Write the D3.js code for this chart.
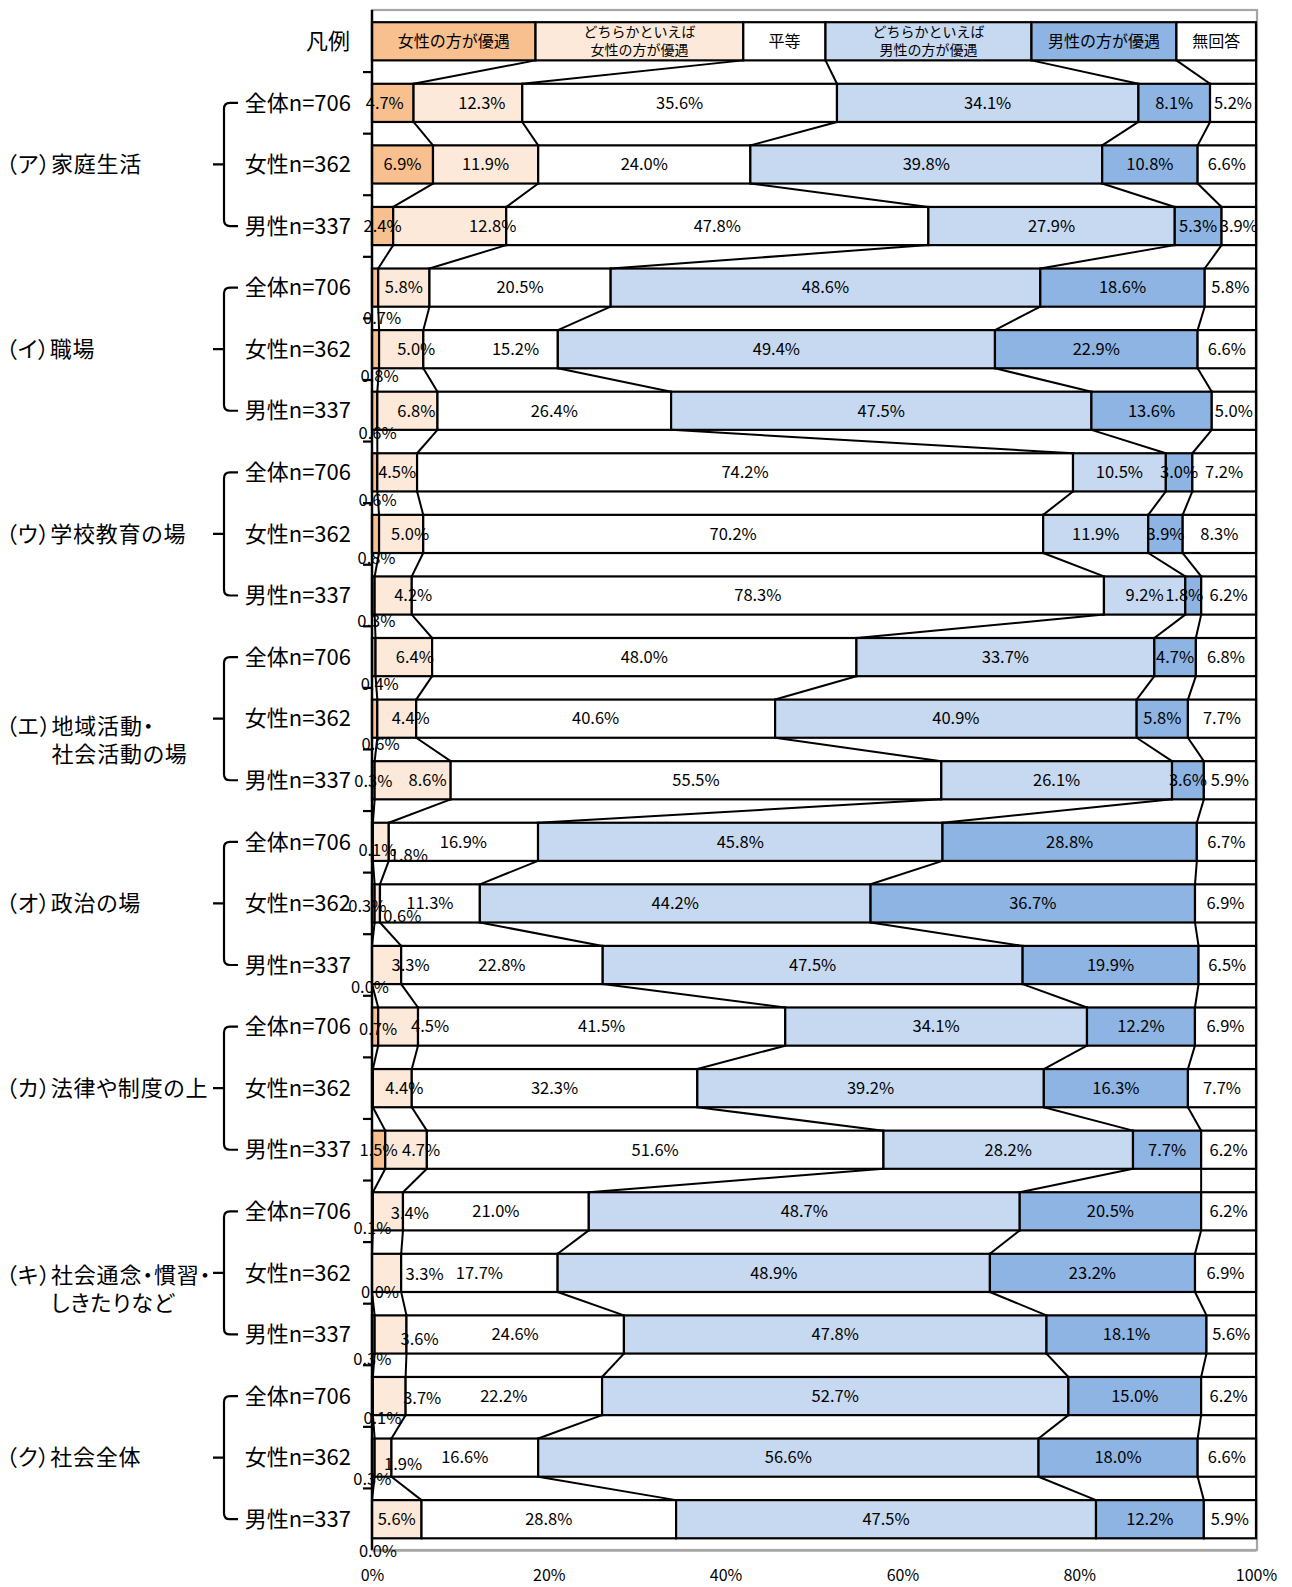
<!DOCTYPE html>
<html><head><meta charset="utf-8">
<script src="https://cdn.jsdelivr.net/npm/d3@7"></script>
<style>
body{margin:0;background:#fff;}
svg text{font-family:"Noto Sans CJK JP","Noto Sans",sans-serif;fill:#000;}
</style></head><body>
<svg id="chart" width="1292" height="1587"></svg>
<script>
// ---- data ----
const seriesNames = ["女性の方が優遇","どちらかといえば女性の方が優遇","平等","どちらかといえば男性の方が優遇","男性の方が優遇","無回答"];
const legendLines = [["女性の方が優遇"],["どちらかといえば","女性の方が優遇"],["平等"],["どちらかといえば","男性の方が優遇"],["男性の方が優遇"],["無回答"]];
const legendShares = [18.5, 23.5, 9.3, 23.3, 16.4, 9.0];
const legendTitle = "凡例";
const groups = ["（ア）家庭生活","（イ）職場","（ウ）学校教育の場","（エ）地域活動・\n社会活動の場","（オ）政治の場","（カ）法律や制度の上","（キ）社会通念・慣習・\nしきたりなど","（ク）社会全体"];
const respondents = ["全体n=706","女性n=362","男性n=337"];
const tickValues = [0,20,40,60,80,100];

const womenFavored      = [4.7,6.9,2.4, 0.7,0.8,0.6, 0.6,0.8,0.3, 0.4,0.6,0.3, 0.1,0.3,0.0, 0.7,0.1,1.5, 0.1,0.0,0.3, 0.1,0.3,0.0];
const ratherWomen       = [12.3,11.9,12.8, 5.8,5.0,6.8, 4.5,5.0,4.2, 6.4,4.4,8.6, 1.8,0.6,3.3, 4.5,4.4,4.7, 3.4,3.3,3.6, 3.7,1.9,5.6];
const equal             = [35.6,24.0,47.8, 20.5,15.2,26.4, 74.2,70.2,78.3, 48.0,40.6,55.5, 16.9,11.3,22.8, 41.5,32.3,51.6, 21.0,17.7,24.6, 22.2,16.6,28.8];
const ratherMen         = [34.1,39.8,27.9, 48.6,49.4,47.5, 10.5,11.9,9.2, 33.7,40.9,26.1, 45.8,44.2,47.5, 34.1,39.2,28.2, 48.7,48.9,47.8, 52.7,56.6,47.5];
const menFavored        = [8.1,10.8,5.3, 18.6,22.9,13.6, 3.0,3.9,1.8, 4.7,5.8,3.6, 28.8,36.7,19.9, 12.2,16.3,7.7, 20.5,23.2,18.1, 15.0,18.0,12.2];
const noAnswer          = [5.2,6.6,3.9, 5.8,6.6,5.0, 7.2,8.3,6.2, 6.8,7.7,5.9, 6.7,6.9,6.5, 6.9,7.7,6.2, 6.2,6.9,5.6, 6.2,6.6,5.9];
const seriesValues = [womenFavored, ratherWomen, equal, ratherMen, menFavored, noAnswer];

// ---- styling ----
const colors = ["#F8BF8F","#FDE9D9","#FFFFFF","#C6D9F0","#8DB4E2","#FFFFFF"];
// manual label nudges [dx,dy] (row 1..24 - series index); null = hidden
const labelNudge = {
 "1-0":[-8,0],"1-1":[14,0],"3-1":[43,0],
 "4-0":[7,31],"5-0":[4,27],"5-1":[15,0],"5-2":[25,0],"6-0":[3,22],"6-1":[9,0],
 "7-0":[3,28],"8-0":[1,24],"8-1":[9,0],"9-0":[3,26],"9-1":[20,0],"9-4":[-9,0],
 "10-0":[6,27],"10-1":[11,0],"11-0":[6,26],"11-1":[14,0],"12-0":[0,1],"12-1":[15,0],
 "13-0":[5,8],"13-1":[28,13],"14-0":[-6,3],"14-1":[25,13],"15-0":[-2,22],"15-1":[24,0],
 "16-0":[3,3],"16-1":[32,0],"17-0":null,"17-1":[12,0],"18-1":[15,0],
 "19-0":[0,17],"19-1":[22,2],"20-0":[8,19],"20-1":[38,1],"21-0":[-1,25],"21-1":[29,5],
 "22-0":[10,22],"22-1":[33,2],"23-0":[-1,22],"23-1":[20,7],"24-0":[6,32]
};
const groupLabelDy = [0,0,0,6,0,0,0,0];

const svg = d3.select("#chart");
const x = d3.scaleLinear().domain([0,100]).range([372,1256]);
const nRows = 1 + groups.length*respondents.length;
const y = d3.scaleBand().domain(d3.range(nRows)).range([10.5,1550]).paddingInner(0.38).paddingOuter(0.19);
const bw = y.bandwidth();
const yc = i => y(i) + bw/2;

// rows
const rows = [];
rows.push(legendShares.slice());
for (let i=0;i<womenFavored.length;i++) rows.push(seriesValues.map(a=>a[i]));
const stacked = rows.map(vals=>{
  const tot = d3.sum(vals); let c = 0;
  return vals.map((v,s)=>{ const a=c/tot*100; c+=v; return {v, s, x0:a, x1:c/tot*100}; });
});

// frame
svg.append("rect").attr("x",x(0)).attr("y",10).attr("width",x(100)-x(0)+1).attr("height",1540)
  .attr("fill","none").attr("stroke","#A6A6A6").attr("stroke-width",2.2);

// bars
const gBars = svg.append("g");
stacked.forEach((segs,i)=>{
  gBars.selectAll(null).data(segs.filter(d=>d.v>0)).enter().append("rect")
    .attr("x",d=>x(d.x0)).attr("y",y(i)).attr("width",d=>x(d.x1)-x(d.x0)).attr("height",bw)
    .attr("fill",d=>colors[d.s]).attr("stroke","#000").attr("stroke-width",2.2);
});

// series lines
const gLines = svg.append("g");
for (let i=0;i<nRows-1;i++){
  for (let s=0;s<seriesNames.length;s++){
    gLines.append("line")
      .attr("x1",x(stacked[i][s].x1)).attr("y1",y(i)+bw)
      .attr("x2",x(stacked[i+1][s].x1)).attr("y2",y(i+1))
      .attr("stroke","#000").attr("stroke-width",2);
  }
}

// left axis line with boundary ticks
svg.append("line").attr("x1",x(0)).attr("x2",x(0)).attr("y1",10).attr("y2",1550)
  .attr("stroke","#000").attr("stroke-width",2.4);
const step = y.step();
for (let i=1;i<nRows;i++){
  const yy = y(i) - (step-bw)/2;
  svg.append("line").attr("x1",x(0)-9).attr("x2",x(0)).attr("y1",yy).attr("y2",yy)
    .attr("stroke","#000").attr("stroke-width",2.2);
}

// bottom axis
const xAxis = svg.append("g").attr("transform","translate(0,1550)")
  .call(d3.axisBottom(x).tickValues(tickValues).tickFormat(d=>d+"%").tickSize(0).tickPadding(20));
xAxis.select(".domain").attr("stroke","#A6A6A6").attr("stroke-width",2.5);
xAxis.selectAll("text").attr("font-size",16).attr("font-family","'Noto Sans CJK JP'");

// legend texts
stacked[0].forEach((d,s)=>{
  const cx = (x(d.x0)+x(d.x1))/2;
  const lines = legendLines[s];
  if (lines.length===1){
    svg.append("text").attr("x",cx).attr("y",yc(0)).attr("dy","0.35em").attr("text-anchor","middle")
      .attr("font-size",16).text(lines[0]);
  } else {
    lines.forEach((t,k)=>{
      svg.append("text").attr("x",cx).attr("y",yc(0)+(k===0?-9:9)).attr("dy","0.35em").attr("text-anchor","middle")
        .attr("font-size",14).text(t);
    });
  }
});
svg.append("text").attr("x",350).attr("y",yc(0)).attr("dy","0.35em").attr("text-anchor","end")
  .attr("font-size",22).text(legendTitle);

// data labels
const fmt = d3.format(".1f");
for (let i=1;i<nRows;i++){
  stacked[i].forEach((d,s)=>{
    const key = i+"-"+s;
    if (key in labelNudge && labelNudge[key]===null) return;
    const [dx,dy] = labelNudge[key] || [0,0];
    svg.append("text").attr("x",(x(d.x0)+x(d.x1))/2+dx).attr("y",yc(i)+dy).attr("dy","0.35em")
      .attr("text-anchor","middle").attr("font-size",16.5).text(fmt(d.v)+"%");
  });
}

// row labels
for (let i=1;i<nRows;i++){
  svg.append("text").attr("x",351).attr("y",yc(i)).attr("dy","0.35em").attr("text-anchor","end")
    .attr("font-size",22).text(respondents[(i-1)%3]);
}

// group brackets + labels
const gfs = 22;
groups.forEach((g,k)=>{
  const top = yc(3*k+1), mid = yc(3*k+2), bot = yc(3*k+3);
  svg.append("path").attr("d",`M238,${top}H230Q224,${top} 224,${top+6}V${bot-6}Q224,${bot} 230,${bot}H238M213,${mid}H224`)
    .attr("fill","none").attr("stroke","#000").attr("stroke-width",2.2);
  const parts = g.split("\n");
  const y0 = mid + (parts.length>1?2:0) + groupLabelDy[k];
  svg.append("text").attr("x",6).attr("y",y0).attr("dy","0.35em")
    .attr("font-size",gfs).attr("letter-spacing",0.8).style("font-feature-settings","'palt'").text(parts[0]);
  if (parts.length>1){
    const m = parts[0].match(/^（.）/)[0];
    const tmp = svg.append("text").attr("font-size",gfs).attr("letter-spacing",0.8).style("font-feature-settings","'palt'").text(m);
    const w = tmp.node().getComputedTextLength(); tmp.remove();
    svg.append("text").attr("x",6+w).attr("y",y0+28).attr("dy","0.35em")
      .attr("font-size",gfs).attr("letter-spacing",0.8).style("font-feature-settings","'palt'").text(parts[1]);
  }
});
</script>
</body></html>
